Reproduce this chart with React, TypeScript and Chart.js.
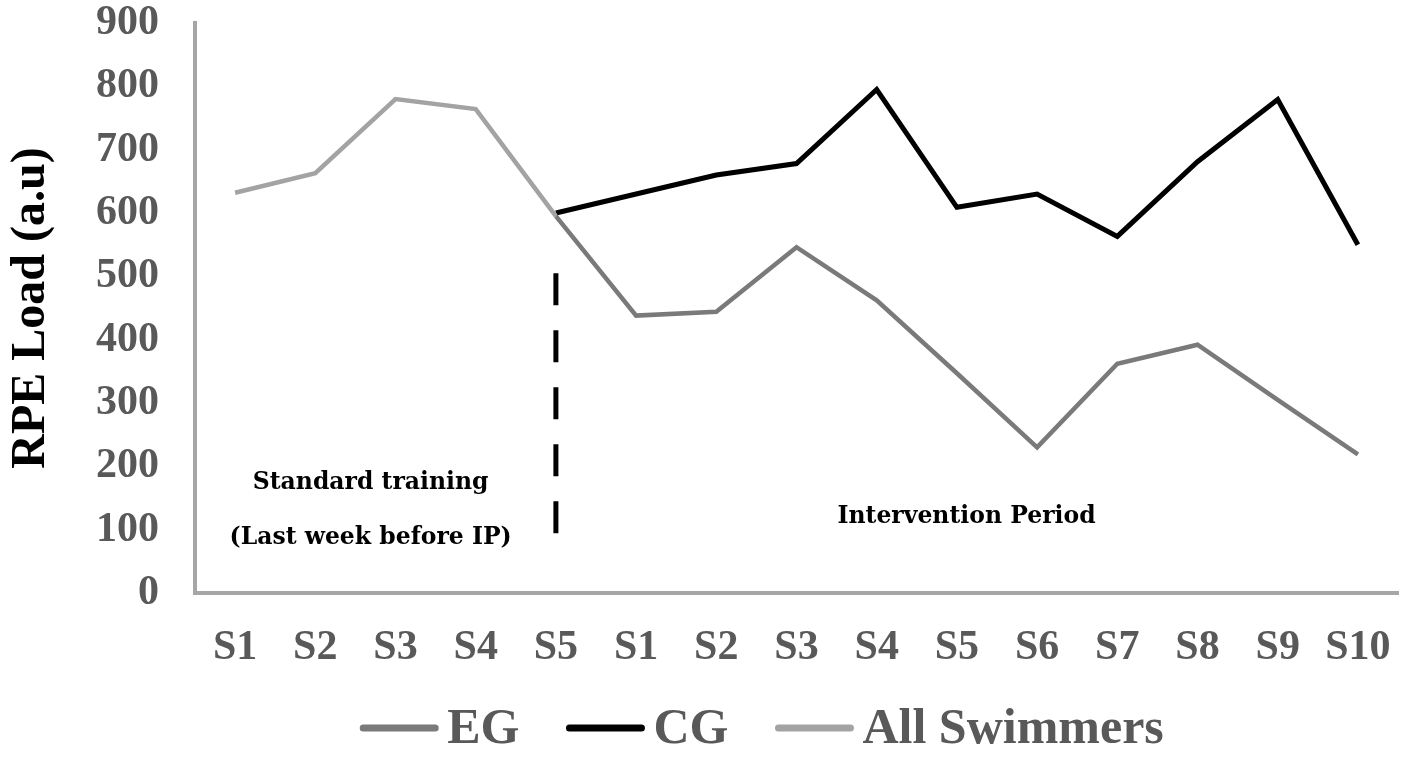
import { useEffect, useRef } from "react";
import { Chart, registerables } from "chart.js";

Chart.register(...registerables);

// sessions: 5 of standard training, then 10 of the intervention period
const sessions = ["S1", "S2", "S3", "S4", "S5", "S1", "S2", "S3", "S4", "S5", "S6", "S7", "S8", "S9", "S10"];
const egLoad = [null, null, null, null, 595, 438, 444, 546, 462, 347, 230, 362, 392, 305, 219];
const cgLoad = [null, null, null, null, 600, 630, 660, 678, 795, 609, 630, 563, 681, 779, 550];
const allLoad = [632, 663, 780, 764, 595, null, null, null, null, null, null, null, null, null, null];
const yMax = 900;
const yStep = 100;
const ipStart = 4; // index where the intervention period starts

const serif = "'Liberation Serif', 'Times New Roman', serif";

const notes = [
  { text: "Standard training", x: 1.69, y: 174 },
  { text: "(Last week before IP)", x: 1.69, y: 87 },
  { text: "Intervention Period", x: 9.12, y: 120 },
];

const overlayPlugin = {
  id: "overlay",
  afterDatasetsDraw(chart: any) {
    const { ctx } = chart;
    const x = chart.scales.x;
    const y = chart.scales.y;
    ctx.save();

    // dashed divider between the two periods
    const px = x.getPixelForValue(ipStart);
    ctx.strokeStyle = "#000";
    ctx.lineWidth = 5;
    ctx.setLineDash([32, 25]);
    ctx.beginPath();
    ctx.moveTo(px, y.getPixelForValue(505));
    ctx.lineTo(px, y.getPixelForValue(85));
    ctx.stroke();
    ctx.setLineDash([]);

    ctx.font = "bold 23.5px 'DejaVu Serif', serif";
    ctx.fillStyle = "#000";
    ctx.textAlign = "center";
    ctx.textBaseline = "middle";
    notes.forEach((n) => {
      ctx.fillText(n.text, x.getPixelForValue(n.x), y.getPixelForValue(n.y));
    });
    ctx.restore();
  },
  afterDraw(chart: any) {
    // legend: long line sample followed by the label
    const { ctx } = chart;
    const sets = chart.data.datasets;
    const lineLen = 78;
    const gap = 9;
    const itemGap = 47;
    const cy = 728;
    ctx.save();
    ctx.font = `bold 50px ${serif}`;
    const widths = sets.map((d: any) => ctx.measureText(d.label).width);
    const total =
      widths.reduce((a: number, w: number) => a + w + lineLen + gap, 0) + itemGap * (sets.length - 1);
    let cx = 762 - total / 2;
    ctx.textBaseline = "middle";
    ctx.textAlign = "left";
    sets.forEach((d: any, i: number) => {
      ctx.strokeStyle = d.borderColor;
      ctx.lineWidth = 7;
      ctx.lineCap = "round";
      ctx.beginPath();
      ctx.moveTo(cx + 3, cy);
      ctx.lineTo(cx + lineLen - 3, cy);
      ctx.stroke();
      cx += lineLen + gap;
      ctx.fillStyle = "#595959";
      ctx.fillText(d.label, cx, cy + 2);
      cx += widths[i] + itemGap;
    });
    ctx.restore();
  },
};

export default function App() {
  const chartRef = useRef<HTMLCanvasElement>(null);

  useEffect(() => {
    document.body.style.margin = "0";
    if (!chartRef.current) return;

    const data = {
      labels: sessions,
      datasets: [
        { label: "EG", data: egLoad, borderColor: "#7a7a7a", borderWidth: 4.5, order: 2 },
        { label: "CG", data: cgLoad, borderColor: "#000000", borderWidth: 5, order: 1 },
        { label: "All Swimmers", data: allLoad, borderColor: "#a3a3a3", borderWidth: 4.5, order: 0 },
      ].map((d) => ({
        ...d,
        pointRadius: 0,
        tension: 0,
        spanGaps: false,
        fill: false,
      })),
    };

    const chart = new Chart(chartRef.current, {
      type: "line",
      data,
      options: {
        responsive: false,
        animation: false,
        layout: { padding: { top: 23, right: 18, bottom: 90, left: 0 } },
        plugins: {
          legend: { display: false },
          tooltip: { enabled: false },
        },
        scales: {
          x: {
            offset: true,
            grid: { display: false, drawTicks: false },
            border: { display: true, color: "#a6a6a6", width: 4 },
            ticks: {
              color: "#595959",
              font: { family: serif, size: 42, weight: "bold", lineHeight: 1.2 },
              padding: 30,
              maxRotation: 0,
              autoSkip: false,
            },
            afterFit: (s: any) => {
              s.height = 75;
              s.paddingLeft = 0;
              s.paddingRight = 0;
            },
          },
          y: {
            min: 0,
            max: yMax,
            grid: { display: false, drawTicks: false },
            border: { display: true, color: "#a6a6a6", width: 4 },
            ticks: {
              stepSize: yStep,
              color: "#595959",
              font: { family: serif, size: 42, weight: "bold", lineHeight: 1 },
              padding: 36,
            },
            title: {
              display: true,
              text: "RPE Load (a.u)",
              color: "#000",
              font: { family: serif, size: 48, weight: "bold", lineHeight: 1.2 },
              padding: { top: 3, bottom: 0 },
            },
            afterFit: (s: any) => {
              s.width = 195;
              s.paddingTop = 0;
              s.paddingBottom = 0;
            },
          },
        },
      } as any,
      plugins: [overlayPlugin],
    });

    return () => {
      chart.destroy();
    };
  }, []);

  return (
    <div style={{ width: 1416, height: 758, background: "#fff" }}>
      <canvas ref={chartRef} width={1416} height={758} style={{ width: 1416, height: 758 }} />
    </div>
  );
}
